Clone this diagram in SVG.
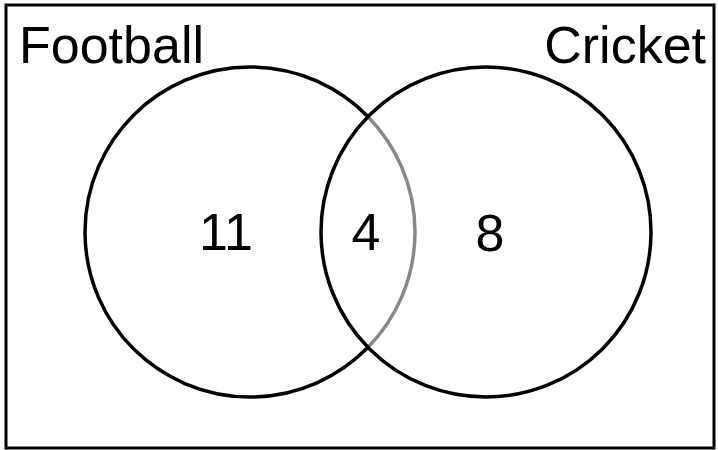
<svg xmlns="http://www.w3.org/2000/svg" width="718" height="450" viewBox="0 0 718 450">
<style>
.t{font-family:"Liberation Sans",Arial,sans-serif;font-size:52px;fill:#000}
.c{fill:none;stroke:#000;stroke-width:3.5}
</style>
<rect x="0" y="0" width="718" height="450" fill="#fff"/>
<rect x="6" y="5" width="708" height="443" fill="none" stroke="#000" stroke-width="3"/>
<g id="football">
<path class="c" d="M368 347.33 A165 165 0 1 1 368 116.67"/>
<path d="M368 116.67 A165 165 0 0 1 368 347.33" fill="none" stroke="#888" stroke-width="3.5"/>
<text class="t" x="19" y="63">Football</text>
<text class="t" x="226" y="250" text-anchor="middle">11</text>
</g>
<g id="cricket">
<circle class="c" cx="486" cy="232" r="165"/>
<text class="t" x="706" y="63" text-anchor="end">Cricket</text>
<text class="t" x="490" y="251" text-anchor="middle">8</text>
</g>
<g id="both">
<text class="t" x="366" y="250" text-anchor="middle">4</text>
</g>
</svg>
